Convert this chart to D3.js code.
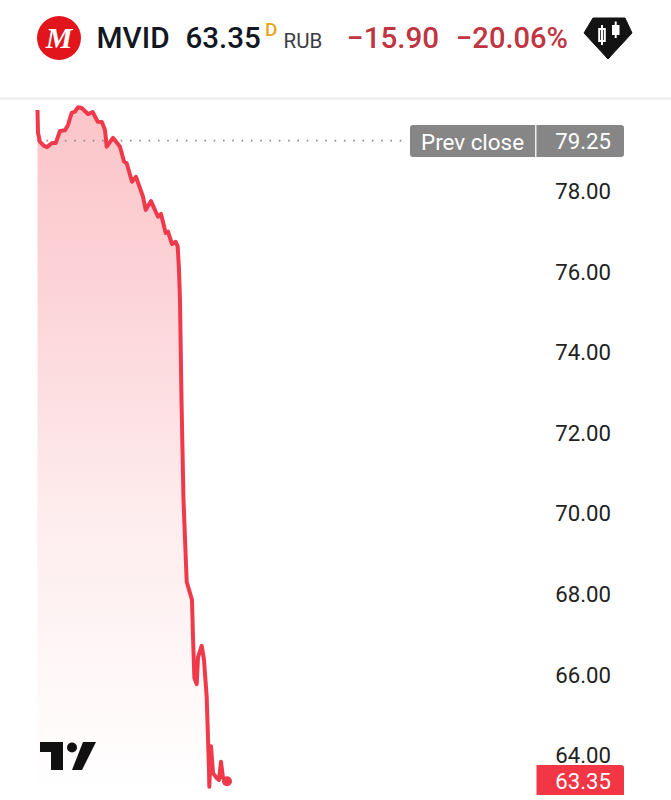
<!DOCTYPE html>
<html><head><meta charset="utf-8">
<script src="https://cdn.jsdelivr.net/npm/d3@7"></script>
<style>html,body{margin:0;padding:0;background:#fff}svg{display:block}text{font-family:Roboto,sans-serif}</style>
</head><body><div id="c"></div>
<script>
const minutes=[0.5,1,3,7,10,15,18.7,23,28,31,34.7,38,41,44.7,51,55.7,60.7,65,68,69.7,76,83,87,89.7,95,99,106,108.7,114,121,124,128.7,131,135,138.7,140.7,142,143,144.5,146.5,149.7,155,156,157.4,159.7,161,164.7,167,169.7,172,172.3,174,176,179.7,182,184,186,190];
const prices=[80.01,79.44,79.22,79.12,79.09,79.19,79.19,79.49,79.51,79.64,79.94,79.97,80.08,80.06,79.91,79.96,79.72,79.71,79.51,79.10,79.32,79.10,78.73,78.69,78.23,78.35,77.86,77.53,77.75,77.36,77.43,76.96,76.99,76.68,76.74,76.62,76.04,75.29,72.81,70.33,68.30,67.85,66.93,65.91,65.76,66.43,66.71,66.36,65.44,63.63,63.21,64.22,63.55,63.43,63.38,63.83,63.43,63.36];
const yTicks=[78,76,74,72,70,68,66,64];
const prevClose=79.25, lastPrice=63.35;
const symbol="MVID", change="−15.90", changePct="−20.06%", currency="RUB";

const W=671,H=800;
const svg=d3.select("#c").append("svg").attr("width",W).attr("height",H);
const x=d3.scaleLinear().domain([0,634]).range([37,671]);
const y=d3.scaleLinear().domain([78,64]).range([191,755]);

const defs=svg.append("defs");
const g=defs.append("linearGradient").attr("id","fade").attr("x1",0).attr("x2",0).attr("y1",0).attr("y2",1);
g.append("stop").attr("offset",0).attr("stop-color","#f23645").attr("stop-opacity",0.29);
g.append("stop").attr("offset",0.25).attr("stop-color","#f23645").attr("stop-opacity",0.22);
g.append("stop").attr("offset",0.6).attr("stop-color","#f23645").attr("stop-opacity",0.09);
g.append("stop").attr("offset",1).attr("stop-color","#f23645").attr("stop-opacity",0);

// header
svg.append("line").attr("x1",0).attr("x2",W).attr("y1",98.5).attr("y2",98.5).attr("stroke","#ececec").attr("stroke-width",2);
svg.append("circle").attr("cx",59).attr("cy",38).attr("r",22).attr("fill","#e2151c");
svg.append("text").attr("x",59).attr("y",48).attr("text-anchor","middle").attr("fill","#fff")
  .style("font-family","'Liberation Serif',serif").style("font-style","italic").style("font-weight",700).style("font-size","30px").text("M");
const hdr=(t,xp,yp,size,weight,col)=>svg.append("text").attr("x",xp).attr("y",yp).attr("fill",col).style("font-size",size+"px").style("font-weight",weight).text(t);
hdr(symbol,96.5,47.5,29.8,500,"#131722");
hdr(lastPrice.toFixed(2),185.5,47.5,29.5,500,"#131722");
hdr("D",265,36,19,500,"#e8a523");
hdr(currency,283.5,48,20.5,400,"#3a3d45");
hdr(change,347,47.5,29.6,500,"#c03541");
hdr(changePct,456,47.5,29.6,500,"#c03541").attr("textLength",112).attr("lengthAdjust","spacingAndGlyphs");

// candle badge
const b=svg.append("g");
b.append("path").attr("d","M593 18H625L632 33L608 59L584 33Z").attr("fill","#131313").attr("stroke","#131313").attr("stroke-linejoin","round");
b.append("rect").attr("x",599.2).attr("y",29).attr("width",5.6).attr("height",12).attr("fill","none").attr("stroke","#fff").attr("stroke-width",2);
b.append("line").attr("x1",602).attr("x2",602).attr("y1",25).attr("y2",45).attr("stroke","#fff").attr("stroke-width",2);
b.append("rect").attr("x",612).attr("y",25).attr("width",7.5).attr("height",10).attr("fill","#fff");
b.append("line").attr("x1",615.7).attr("x2",615.7).attr("y1",21.5).attr("y2",38).attr("stroke","#fff").attr("stroke-width",2);

// area + line
const area=d3.area().x((d,i)=>x(minutes[i])).y0(795).y1(d=>y(d));
const line=d3.line().x((d,i)=>x(minutes[i])).y(d=>y(d));
svg.append("path").datum(prices).attr("d",area).attr("fill","url(#fade)");
svg.append("line").attr("x1",37).attr("x2",405).attr("y1",y(prevClose)).attr("y2",y(prevClose))
  .attr("stroke","#8a8a8a").attr("stroke-width",1.6).attr("stroke-dasharray","1.6 7.7");
svg.append("path").datum(prices).attr("d",line).attr("fill","none").attr("stroke","#ef3a4c").attr("stroke-width",4).attr("stroke-linejoin","round");
svg.append("circle").attr("cx",x(minutes[minutes.length-1])).attr("cy",y(lastPrice)).attr("r",5).attr("fill","#ef3a4c");

// TV logo
svg.append("path").attr("d","M40 742H63V770H51V752H40Z").attr("fill","#111");
svg.append("circle").attr("cx",72).attr("cy",747.5).attr("r",5).attr("fill","#111");
svg.append("path").attr("d","M83 742H96L82 770H72Z").attr("fill","#111");

// axis
const axis=svg.append("g").attr("transform","translate(611,0.5)")
  .call(d3.axisLeft(y).tickValues(yTicks).tickSize(0).tickPadding(0).tickFormat(d3.format(".2f")));
axis.select(".domain").remove();
axis.selectAll("text").attr("fill","#222").style("font-size","22.2px").style("font-family","Roboto,sans-serif");

// prev close tag
svg.append("rect").attr("x",410).attr("y",125).attr("width",214).attr("height",32).attr("rx",3).attr("fill","#868686");
svg.append("line").attr("x1",535.8).attr("x2",535.8).attr("y1",125).attr("y2",157).attr("stroke","#fff").attr("stroke-width",1.3);
svg.append("text").attr("x",421).attr("y",150).attr("fill","#fff").style("font-size","22.4px").text("Prev close");
svg.append("text").attr("x",611).attr("y",149).attr("text-anchor","end").attr("fill","#fff").style("font-size","22.2px").text(prevClose.toFixed(2));

// last price tag
svg.append("path").attr("d","M536.5 765H621a3 3 0 0 1 3 3V795H536.5Z").attr("fill","#f23645");
svg.append("text").attr("x",611).attr("y",789).attr("text-anchor","end").attr("fill","#fff").style("font-size","22.2px").text(lastPrice.toFixed(2));
</script></body></html>
